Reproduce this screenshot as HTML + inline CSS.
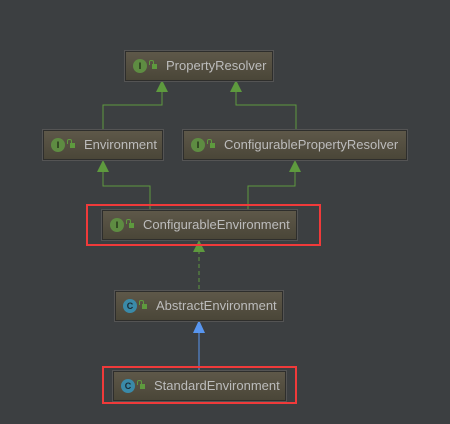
<!DOCTYPE html>
<html><head><style>
body{margin:0;width:450px;height:424px;background:#3c3f41;position:relative;overflow:hidden;font-family:"Liberation Sans",sans-serif}
.n{position:absolute;box-sizing:border-box;height:30px;background:linear-gradient(#5e5849,#4a4638);border:1px solid #2e2e2c;box-shadow:0 0 0 1px #545454;color:#bcbcbc;font-size:13px;line-height:28px;white-space:nowrap}
.i{position:absolute;left:7px;top:7px;width:14px;height:14px;border-radius:50%;background:#5e8c42;color:#1e2a14;font-size:9px;font-weight:bold;line-height:14px;text-align:center}
.c{background:#3a8aa8;color:#1a2a33}
.l{position:absolute;left:26px;top:12px;width:5px;height:5px;background:#5e9a3e}
.l:before{content:"";position:absolute;left:-3px;top:-4px;width:3px;height:4px;border:1px solid #5e9a3e;border-bottom:none;border-radius:2px 2px 0 0}
.t{position:absolute;left:40px;top:0}
.r{position:absolute;border:2px solid #f03a3a;box-sizing:border-box}
</style></head><body>
<svg width="450" height="424" style="position:absolute;left:0;top:0">
<g stroke="#5e9a3e" fill="none" stroke-width="1">
<polyline points="162,90 162,105 103,105 103,130"/>
<polyline points="236,90 236,105 296,105 296,130"/>
<polyline points="103,170 103,186 150,186 150,210"/>
<polyline points="295,170 295,186 248,186 248,210"/>
<line x1="199" y1="250" x2="199" y2="291" stroke-dasharray="4,3"/>
</g>
<g fill="#5e9a3e">
<polygon points="162,80 156,92 168,92"/>
<polygon points="236,80 230,92 242,92"/>
<polygon points="103,160 97,172 109,172"/>
<polygon points="295,160 289,172 301,172"/>
<polygon points="199,240 193,252 205,252"/>
</g>
<line x1="199" y1="330" x2="199" y2="371" stroke="#5896f0"/>
<polygon points="199,320 193,333 205,333" fill="#5896f0"/>
</svg>
<div class="n" style="left:125px;top:51px;width:148px"><div class="i">I</div><div class="l"></div><div class="t">PropertyResolver</div></div>
<div class="n" style="left:43px;top:130px;width:120px"><div class="i">I</div><div class="l"></div><div class="t">Environment</div></div>
<div class="n" style="left:183px;top:130px;width:224px"><div class="i">I</div><div class="l"></div><div class="t">ConfigurablePropertyResolver</div></div>
<div class="n" style="left:102px;top:210px;width:195px"><div class="i">I</div><div class="l"></div><div class="t">ConfigurableEnvironment</div></div>
<div class="n" style="left:115px;top:291px;width:168px"><div class="i c">C</div><div class="l"></div><div class="t">AbstractEnvironment</div></div>
<div class="n" style="left:113px;top:371px;width:173px"><div class="i c">C</div><div class="l"></div><div class="t">StandardEnvironment</div></div>
<div class="r" style="left:86px;top:204px;width:235px;height:42px"></div>
<div class="r" style="left:102px;top:366px;width:195px;height:38px"></div>
</body></html>
